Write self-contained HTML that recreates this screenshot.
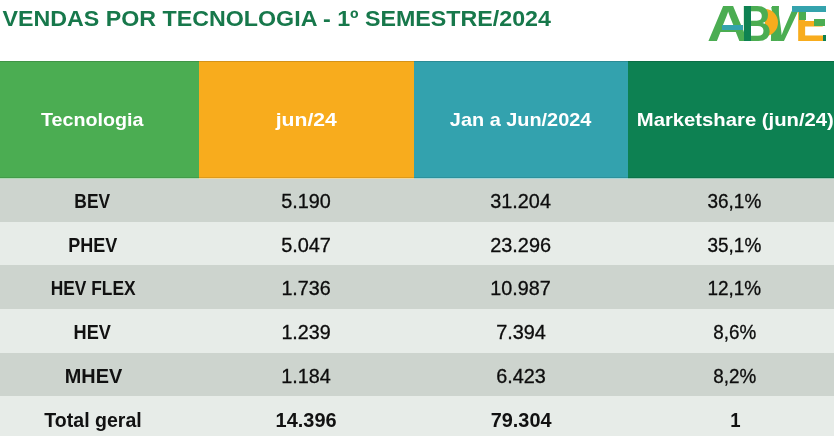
<!DOCTYPE html>
<html lang="pt-BR"><head><meta charset="utf-8"><title>Vendas por tecnologia - 1º semestre/2024</title>
<style>
html,body{margin:0;padding:0;background:#fff;}
body{width:834px;height:436px;overflow:hidden;position:relative;}
.t{position:absolute;white-space:pre;line-height:40px;height:40px;text-align:center;}
.t span{display:inline-block;transform-origin:50% 50%;}
.cell{position:absolute;}
.title{font-family:'Liberation Sans', sans-serif;font-weight:700;color:#17784B;font-size:22.6px;}
.h{font-family:'Liberation Sans', sans-serif;font-weight:700;color:#fff;font-size:18.16px;}
.d{font-family:'Liberation Sans', sans-serif;font-weight:400;color:#0c0c0c;font-size:20.0px;-webkit-text-stroke:0.3px #0c0c0c;}
.b{font-family:'Liberation Sans', sans-serif;font-weight:700;color:#111;font-size:19.7px;}
</style></head><body>
<div class="cell" style="left:0px;top:60.8px;width:199.2px;height:116.9px;background:#4BAD52;border-bottom:1.1px solid rgba(238,244,240,0.62);box-shadow:inset 0 1px 0 rgba(0,0,0,0.14),inset 0 -1px 0 rgba(0,0,0,0.10)"></div>
<div class="cell" style="left:198.7px;top:60.8px;width:215.8px;height:116.9px;background:#F8AC1D;border-bottom:1.1px solid rgba(238,244,240,0.62);box-shadow:inset 0 1px 0 rgba(0,0,0,0.14),inset 0 -1px 0 rgba(0,0,0,0.10)"></div>
<div class="cell" style="left:414px;top:60.8px;width:214.5px;height:116.9px;background:#33A2AE;border-bottom:1.1px solid rgba(238,244,240,0.62);box-shadow:inset 0 1px 0 rgba(0,0,0,0.14),inset 0 -1px 0 rgba(0,0,0,0.10)"></div>
<div class="cell" style="left:628px;top:60.8px;width:206.5px;height:116.9px;background:#0D8152;border-bottom:1.1px solid rgba(238,244,240,0.62);box-shadow:inset 0 1px 0 rgba(0,0,0,0.14),inset 0 -1px 0 rgba(0,0,0,0.10)"></div>
<div class="cell" style="left:0;top:178.8px;width:834px;height:43.4px;background:#CDD4CE"></div>
<div class="cell" style="left:0;top:221.7px;width:834px;height:43.5px;background:#E7ECE8"></div>
<div class="cell" style="left:0;top:264.7px;width:834px;height:44.3px;background:#CDD4CE"></div>
<div class="cell" style="left:0;top:308.5px;width:834px;height:44.6px;background:#E7ECE8"></div>
<div class="cell" style="left:0;top:352.6px;width:834px;height:44.2px;background:#CDD4CE"></div>
<div class="cell" style="left:0;top:396.3px;width:834px;height:40.2px;background:#E7ECE8"></div>
<div class="t title" id="title" style="left:-73.00px;top:-0.83px;width:700px"><span style="transform:scaleX(1.0280)">VENDAS POR TECNOLOGIA - 1º SEMESTRE/2024</span></div>
<div class="t h" id="h0" style="left:-57.50px;top:99.61px;width:300px"><span style="transform:scaleX(1.0850)">Tecnologia</span></div>
<div class="t h" id="h1" style="left:155.90px;top:99.61px;width:300px"><span style="transform:scaleX(1.1660)">jun/24</span></div>
<div class="t h" id="h2" style="left:371.00px;top:99.61px;width:300px"><span style="transform:scaleX(1.0955)">Jan a Jun/2024</span></div>
<div class="t h" id="h3" style="left:584.80px;top:99.61px;width:300px"><span style="transform:scaleX(1.1160)">Marketshare (jun/24)</span></div>
<div class="t b" id="r0c0" style="left:-57.50px;top:181.47px;width:300px"><span style="transform:scaleX(0.8829)">BEV</span></div>
<div class="t d" id="r0c1" style="left:155.90px;top:181.37px;width:300px"><span style="transform:scaleX(0.9910)">5.190</span></div>
<div class="t d" id="r0c2" style="left:371.00px;top:181.37px;width:300px"><span style="transform:scaleX(0.9916)">31.204</span></div>
<div class="t d" id="r0c3" style="left:584.80px;top:181.37px;width:300px"><span style="transform:scaleX(0.9480)">36,1%</span></div>
<div class="t b" id="r1c0" style="left:-57.50px;top:225.17px;width:300px"><span style="transform:scaleX(0.9136)">PHEV</span></div>
<div class="t d" id="r1c1" style="left:155.90px;top:225.07px;width:300px"><span style="transform:scaleX(0.9950)">5.047</span></div>
<div class="t d" id="r1c2" style="left:371.00px;top:225.07px;width:300px"><span style="transform:scaleX(0.9940)">23.296</span></div>
<div class="t d" id="r1c3" style="left:584.80px;top:225.07px;width:300px"><span style="transform:scaleX(0.9480)">35,1%</span></div>
<div class="t b" id="r2c0" style="left:-57.20px;top:268.17px;width:300px"><span style="transform:scaleX(0.8820)">HEV FLEX</span></div>
<div class="t d" id="r2c1" style="left:155.90px;top:268.07px;width:300px"><span style="transform:scaleX(0.9850)">1.736</span></div>
<div class="t d" id="r2c2" style="left:371.00px;top:268.07px;width:300px"><span style="transform:scaleX(0.9896)">10.987</span></div>
<div class="t d" id="r2c3" style="left:584.80px;top:268.07px;width:300px"><span style="transform:scaleX(0.9460)">12,1%</span></div>
<div class="t b" id="r3c0" style="left:-57.50px;top:311.97px;width:300px"><span style="transform:scaleX(0.9218)">HEV</span></div>
<div class="t d" id="r3c1" style="left:155.90px;top:311.87px;width:300px"><span style="transform:scaleX(0.9850)">1.239</span></div>
<div class="t d" id="r3c2" style="left:371.00px;top:311.87px;width:300px"><span style="transform:scaleX(0.9950)">7.394</span></div>
<div class="t d" id="r3c3" style="left:584.80px;top:311.87px;width:300px"><span style="transform:scaleX(0.9410)">8,6%</span></div>
<div class="t b" id="r4c0" style="left:-57.00px;top:355.97px;width:300px"><span style="transform:scaleX(1.0100)">MHEV</span></div>
<div class="t d" id="r4c1" style="left:155.90px;top:355.87px;width:300px"><span style="transform:scaleX(0.9900)">1.184</span></div>
<div class="t d" id="r4c2" style="left:371.00px;top:355.87px;width:300px"><span style="transform:scaleX(0.9905)">6.423</span></div>
<div class="t d" id="r4c3" style="left:584.80px;top:355.87px;width:300px"><span style="transform:scaleX(0.9410)">8,2%</span></div>
<div class="t b" id="r5c0" style="left:-56.90px;top:400.17px;width:300px"><span style="transform:scaleX(0.9930)">Total geral</span></div>
<div class="t b" id="r5c1" style="left:155.90px;top:400.17px;width:300px"><span style="transform:scaleX(1.0131)">14.396</span></div>
<div class="t b" id="r5c2" style="left:371.00px;top:400.17px;width:300px"><span style="transform:scaleX(1.0110)">79.304</span></div>
<div class="t b" id="r5c3" style="left:585.80px;top:400.17px;width:300px"><span style="transform:scaleX(0.9413)">1</span></div>
<style>
.logo{position:absolute;left:700px;top:0;width:134px;height:50px;overflow:hidden;}
.logo span{position:absolute;top:-0.98px;font:700 49.4px/1 'Liberation Sans',sans-serif;transform-origin:0 6.98px;white-space:pre;}
.logo i{position:absolute;display:block;}
</style>
<div class="logo" role="img" aria-label="ABVE">
<span style="left:7.34px;color:#4BAD52;z-index:4;transform:scaleX(1.1844)">A</span><span style="left:41.45px;color:#4BAD52;z-index:5;transform:scaleX(0.8562)">B</span><span style="left:70.86px;color:#4BAD52;z-index:2;transform:skewX(-8.3deg) scaleX(0.8938)">V</span><span style="left:95.38px;color:#F8AC1D;z-index:1;transform:scaleX(0.9709)">E</span>
<i style="left:98.50px;top:10.00px;width:7.60px;height:10.00px;background:#4BAD52;z-index:1;"></i>
<i style="left:114.00px;top:19.20px;width:11.40px;height:7.00px;background:#4BAD52;z-index:1;"></i>
<i style="left:123.30px;top:35.40px;width:2.60px;height:5.60px;background:#0E8252;z-index:1;"></i>
<i style="left:71.60px;top:6.00px;width:7.30px;height:35.00px;background:#4BAD52;z-index:2;transform-origin:0 0;transform:skewX(-1.8deg);"></i>
<i style="left:65.00px;top:8.70px;width:12.90px;height:27.00px;background:#F8AC1D;z-index:3;border-radius:0 12.9px 12.9px 0 / 0 13.5px 13.5px 0;"></i>
<i style="left:44.20px;top:6.00px;width:7.20px;height:35.00px;background:#0E8252;z-index:6;"></i>
<i style="left:21.70px;top:24.90px;width:21.80px;height:5.60px;background:#34A3AD;z-index:6;"></i>
<i style="left:92.30px;top:6.00px;width:33.70px;height:6.20px;background:#34A3AD;z-index:6;"></i>
</div>
</body></html>
